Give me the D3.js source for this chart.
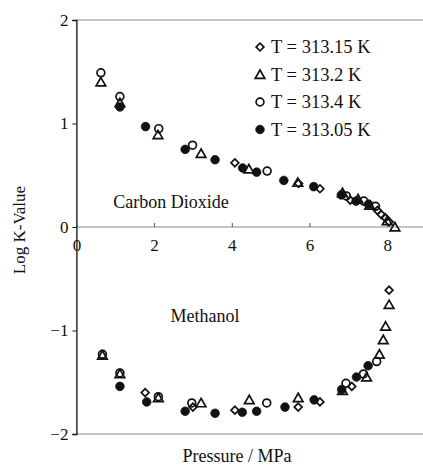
<!DOCTYPE html>
<html>
<head>
<meta charset="utf-8">
<script src="https://cdn.jsdelivr.net/npm/d3@7"></script>
<style>
  html, body { margin: 0; padding: 0; background: #fff; }
  svg { display: block; }
  text { font-family: "Liberation Serif", "Times New Roman", serif; fill: #111; }
</style>
</head>
<body>
<svg id="chart" width="423" height="467"></svg>
<script>
// Log K-values of CO2 (upper branch) and methanol (lower branch) vs pressure
// Each point: [pressure in MPa, log K]

const xTicks = [0, 2, 4, 6, 8];
const yTicks = [-2, -1, 0, 1, 2];

const legendLabels = ["T = 313.15 K", "T = 313.2 K", "T = 313.4 K", "T = 313.05 K"];
const markerKinds = ["diamond", "triangle", "circle", "disc"];

// T = 313.15 K
const co2_313_15 = [[4.08,0.62],[5.72,0.42],[6.27,0.37],[7.05,0.26],[7.75,0.16],[7.85,0.12],[7.95,0.09],[8.05,0.05]];
const meoh_313_15 = [[1.77,-1.60],[3.00,-1.74],[4.08,-1.77],[5.71,-1.74],[6.27,-1.69],[7.09,-1.54],[8.05,-0.61]];

// T = 313.2 K
const co2_313_2 = [[0.63,1.40],[1.12,1.20],[2.10,0.89],[3.21,0.71],[4.44,0.56],[5.70,0.43],[6.85,0.33],[7.25,0.27],[7.55,0.21],[8.00,0.06],[8.20,0.00]];
const meoh_313_2 = [[0.67,-1.24],[1.12,-1.42],[2.11,-1.65],[3.21,-1.70],[4.45,-1.67],[5.71,-1.65],[6.85,-1.58],[7.47,-1.45],[7.80,-1.23],[7.90,-1.09],[7.96,-0.96],[8.05,-0.75]];

// T = 313.4 K
const co2_313_4 = [[0.63,1.49],[1.12,1.26],[2.12,0.95],[2.99,0.79],[4.91,0.54],[6.95,0.30],[7.40,0.25],[7.70,0.20]];
const meoh_313_4 = [[0.67,-1.23],[1.12,-1.41],[2.11,-1.64],[2.97,-1.70],[4.90,-1.70],[6.94,-1.51],[7.39,-1.42],[7.73,-1.30]];

// T = 313.05 K
const co2_313_05 = [[1.12,1.16],[1.78,0.97],[2.80,0.75],[3.57,0.65],[4.28,0.57],[4.64,0.53],[5.34,0.45],[6.11,0.39],[6.82,0.31],[7.20,0.25],[7.52,0.22]];
const meoh_313_05 = [[1.12,-1.54],[1.81,-1.69],[2.80,-1.78],[3.57,-1.80],[4.27,-1.79],[4.64,-1.78],[5.37,-1.74],[6.12,-1.67],[6.83,-1.57],[7.21,-1.45],[7.51,-1.34]];

const seriesPoints = [
  co2_313_15.concat(meoh_313_15),
  co2_313_2.concat(meoh_313_2),
  co2_313_4.concat(meoh_313_4),
  co2_313_05.concat(meoh_313_05)
];

const svg = d3.select("#chart");
const plotLeft = 76.4, plotRight = 426, plotTop = 20, plotBottom = 434;

const x = d3.scaleLinear().domain([0, 9]).range([plotLeft, plotRight]);
const y = d3.scaleLinear().domain([-2, 2]).range([plotBottom, plotTop]);

// frame lines (top, bottom) and the zero line
const grey = "#8c8c8c";
[2, -2, 0].forEach(v => {
  svg.append("line")
    .attr("x1", plotLeft).attr("x2", 423)
    .attr("y1", y(v)).attr("y2", y(v))
    .attr("stroke", grey).attr("stroke-width", 1.2);
});

// y axis
const yAxis = svg.append("g")
  .attr("transform", `translate(${plotLeft},0)`)
  .call(d3.axisLeft(y).tickValues(yTicks).tickSize(4).tickPadding(4).tickFormat(d3.format("d")));
yAxis.select(".domain").attr("stroke", "#111").attr("stroke-width", 1.3);
yAxis.selectAll(".tick line").attr("stroke", "#111");
yAxis.selectAll("text").style("font-size", "17px").attr("fill", "#111");

// x axis on the zero line, ticks pointing up, labels below
const xAxis = svg.append("g")
  .attr("transform", `translate(0,${y(0)})`)
  .call(d3.axisBottom(x).tickValues(xTicks).tickSizeInner(-4).tickSizeOuter(0).tickPadding(12).tickFormat(d3.format("d")));
xAxis.select(".domain").remove();
xAxis.selectAll(".tick line").attr("stroke", "#555");
xAxis.selectAll("text").style("font-size", "17px").attr("fill", "#111");

// axis titles
svg.append("text")
  .attr("transform", `translate(21,230) rotate(-90)`)
  .attr("text-anchor", "middle")
  .attr("dominant-baseline", "middle")
  .style("font-size", "17px")
  .text("Log K-Value");

svg.append("text")
  .attr("x", 237).attr("y", 462)
  .attr("text-anchor", "middle")
  .style("font-size", "18px")
  .text("Pressure / MPa");

// branch labels
svg.append("text")
  .attr("x", 171).attr("y", 208)
  .attr("text-anchor", "middle")
  .style("font-size", "18px")
  .text("Carbon Dioxide");

svg.append("text")
  .attr("x", 205).attr("y", 322)
  .attr("text-anchor", "middle")
  .style("font-size", "18px")
  .text("Methanol");

// markers
const sym = {
  diamond: d3.symbol().type(d3.symbolSquare).size(30),
  triangle: d3.symbol().type(d3.symbolTriangle).size(40),
  circle: d3.symbol().type(d3.symbolCircle).size(48),
  disc: d3.symbol().type(d3.symbolCircle).size(58)
};

function drawMarker(sel, kind) {
  sel.attr("d", sym[kind]())
    .attr("fill", kind === "disc" ? "#111" : "none")
    .attr("stroke", "#111")
    .attr("stroke-width", kind === "disc" ? 0.8 : 1.7);
}

function place(kind, px, py) {
  const dy = kind === "triangle" ? 1 : 0;
  return `translate(${px},${py + dy})` + (kind === "diamond" ? " rotate(45)" : "");
}

seriesPoints.forEach((pts, i) => {
  const kind = markerKinds[i];
  svg.append("g").selectAll("path")
    .data(pts)
    .join("path")
    .attr("transform", d => place(kind, x(d[0]), y(d[1])))
    .call(drawMarker, kind);
});

// legend
const legendY = [47, 74.5, 102, 129.5];
const legend = svg.append("g");
legendLabels.forEach((label, i) => {
  legend.append("path")
    .attr("transform", place(markerKinds[i], 260, legendY[i]))
    .call(drawMarker, markerKinds[i]);
  legend.append("text")
    .attr("x", 271).attr("y", legendY[i])
    .attr("dominant-baseline", "central")
    .style("font-size", "18.5px")
    .text(label);
});
</script>
</body>
</html>
